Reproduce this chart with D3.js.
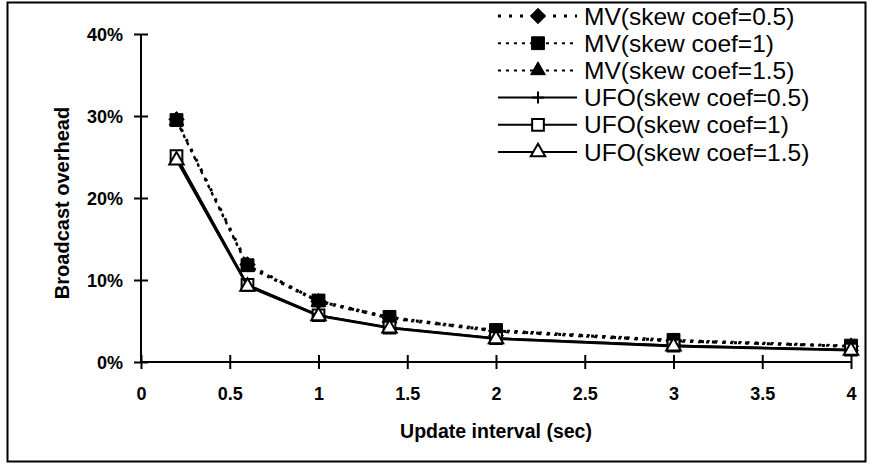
<!DOCTYPE html>
<html>
<head>
<meta charset="utf-8">
<script src="https://cdn.jsdelivr.net/npm/d3@7/dist/d3.min.js"></script>
<style>
  html, body { margin: 0; padding: 0; background: #fff; }
  svg { display: block; font-family: Arial, "Liberation Sans", sans-serif; }
</style>
</head>
<body>
<svg id="chart" width="870" height="465"></svg>
<script>
// Update interval (sec)
const intervals = [0.2, 0.6, 1, 1.4, 2, 3, 4];

// Broadcast overhead (fraction) per scheme and skew coefficient
const mv05  = [0.296, 0.119, 0.074, 0.054, 0.038, 0.026, 0.019];
const mv10  = [0.295, 0.118, 0.075, 0.055, 0.039, 0.027, 0.020];
const mv15  = [0.294, 0.116, 0.073, 0.053, 0.037, 0.025, 0.019];
const ufo05 = [0.250, 0.094, 0.057, 0.042, 0.029, 0.020, 0.015];
const ufo10 = [0.251, 0.094, 0.057, 0.042, 0.029, 0.020, 0.015];
const ufo15 = [0.246, 0.092, 0.056, 0.041, 0.028, 0.019, 0.014];

const seriesNames = [
  "MV(skew coef=0.5)", "MV(skew coef=1)", "MV(skew coef=1.5)",
  "UFO(skew coef=0.5)", "UFO(skew coef=1)", "UFO(skew coef=1.5)"
];

const xTicks = [0, 0.5, 1, 1.5, 2, 2.5, 3, 3.5, 4];
const yTicks = [0, 0.1, 0.2, 0.3, 0.4];

const series = [
  { name: seriesNames[0], values: mv05,  dash: "3,8", width: 3, symbol: d3.symbolDiamond2,  size: 150, fill: "#000" },
  { name: seriesNames[1], values: mv10,  dash: "3,5", width: 2, symbol: d3.symbolSquare2,   size: 210, fill: "#000" },
  { name: seriesNames[2], values: mv15,  dash: "3,5", width: 2, symbol: d3.symbolTriangle,  size: 95,  fill: "#000" },
  { name: seriesNames[3], values: ufo05, dash: null,  width: 2, symbol: "plus",            size: 0,   fill: "none" },
  { name: seriesNames[4], values: ufo10, dash: null,  width: 2, symbol: d3.symbolSquare2,   size: 175, fill: "#fff" },
  { name: seriesNames[5], values: ufo15, dash: null,  width: 2, symbol: d3.symbolTriangle2, size: 150, fill: "#fff" }
];

const svg = d3.select("#chart");

// outer frame
svg.append("rect")
  .attr("x", 7.5).attr("y", 2.5).attr("width", 858).attr("height", 459)
  .attr("fill", "none").attr("stroke", "#000").attr("stroke-width", 2);

const x = d3.scaleLinear().domain([0, 4]).range([141, 851]);
const y = d3.scaleLinear().domain([0, 0.4]).range([362, 34]);

const labelFont = "Arial, 'Liberation Sans', sans-serif";

// axes
const yAxis = d3.axisLeft(y).tickValues(yTicks).tickSize(0).tickFormat(d3.format(".0%"));
const gy = svg.append("g").attr("transform", `translate(${x(0)},0)`).call(yAxis);
gy.select(".domain").remove();
gy.selectAll("text").attr("x", -18).attr("dy", "0.35em")
  .style("font-size", "18px").style("font-weight", "bold").style("font-family", labelFont);
gy.selectAll(".tick").append("line").attr("x1", -7).attr("x2", 7).attr("stroke", "#000").attr("stroke-width", 2);
svg.append("line").attr("x1", x(0)).attr("x2", x(0)).attr("y1", y(0.4)).attr("y2", y(0) + 1)
  .attr("stroke", "#000").attr("stroke-width", 2);

const xAxis = d3.axisBottom(x).tickValues(xTicks).tickSize(0).tickFormat(d3.format(""));
const gx = svg.append("g").attr("transform", `translate(0,${y(0)})`).call(xAxis);
gx.select(".domain").remove();
gx.selectAll("text").attr("y", 0).attr("dy", "38px")
  .style("font-size", "18px").style("font-weight", "bold").style("font-family", labelFont);
gx.selectAll(".tick").append("line").attr("y1", -7).attr("y2", 7).attr("stroke", "#000").attr("stroke-width", 2);
svg.append("line").attr("x1", x(0) - 1).attr("x2", x(4) + 1).attr("y1", y(0)).attr("y2", y(0))
  .attr("stroke", "#000").attr("stroke-width", 2);

// axis titles
svg.append("text").attr("x", 496).attr("y", 438).attr("text-anchor", "middle")
  .style("font-size", "19.5px").style("font-weight", "bold").text("Update interval (sec)");
svg.append("text").attr("transform", "translate(69,203) rotate(-90)").attr("text-anchor", "middle")
  .style("font-size", "20px").style("font-weight", "bold").text("Broadcast overhead");

const line = d3.line().x((d, i) => x(intervals[i])).y(d => y(d));

function drawMarker(g, s, cx, cy) {
  if (s.symbol === "plus") {
    g.append("line").attr("x1", cx).attr("x2", cx).attr("y1", cy - 6).attr("y2", cy + 6)
      .attr("stroke", "#000").attr("stroke-width", 2);
    g.append("line").attr("x1", cx - 6).attr("x2", cx + 6).attr("y1", cy).attr("y2", cy)
      .attr("stroke", "#000").attr("stroke-width", 2);
    return;
  }
  g.append("path")
    .attr("d", d3.symbol().type(s.symbol).size(s.size)())
    .attr("transform", `translate(${cx},${cy})`)
    .attr("fill", s.fill)
    .attr("stroke", "#000")
    .attr("stroke-width", s.fill === "#000" ? 1 : 2);
}

// series lines and markers
series.forEach(s => {
  const g = svg.append("g");
  g.append("path").datum(s.values).attr("d", line)
    .attr("fill", "none").attr("stroke", "#000").attr("stroke-width", s.width)
    .attr("stroke-dasharray", s.dash);
  s.values.forEach((v, i) => drawMarker(g, s, x(intervals[i]), y(v)));
});

// legend
const leg = svg.append("g");
series.forEach((s, i) => {
  const cy = 16 + i * 27.2;
  leg.append("line").attr("x1", 498).attr("x2", 577).attr("y1", cy).attr("y2", cy)
    .attr("stroke", "#000").attr("stroke-width", s.width).attr("stroke-dasharray", s.dash);
  drawMarker(leg, s, 538, cy);
  leg.append("text").attr("x", 584).attr("y", cy).attr("dy", "0.35em")
    .style("font-size", "24.5px").text(s.name);
});
</script>
</body>
</html>
